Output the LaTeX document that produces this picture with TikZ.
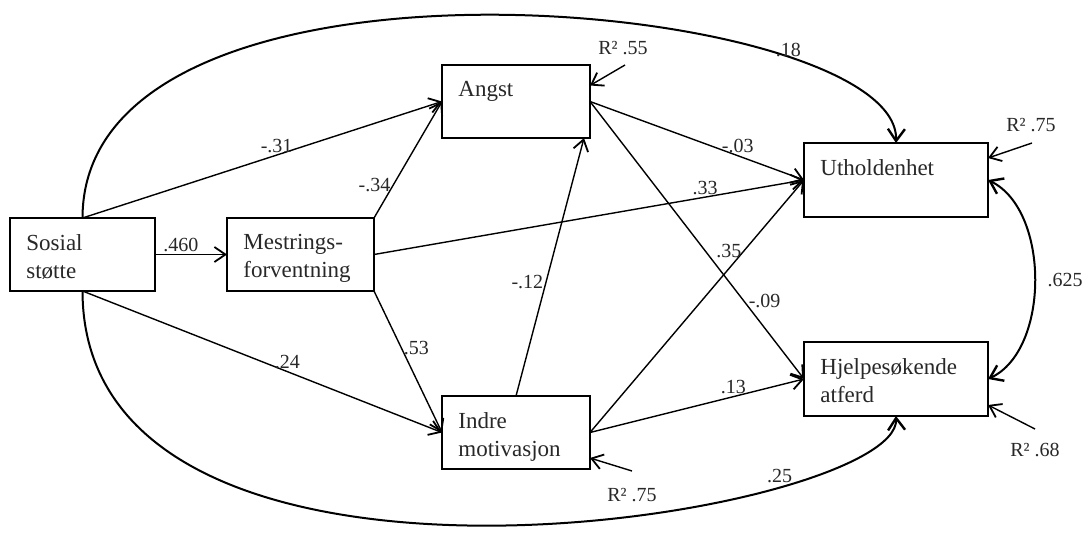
\documentclass[tikz,border=0pt]{standalone}
\usepackage{fontspec}
\setmainfont{Liberation Serif}
\usepackage{tikz}
\usetikzlibrary{arrows.meta, positioning, calc}
\definecolor{txtgrey}{RGB}{40,40,40}
\tikzset{
  barb/.tip={Straight Barb[length=5.5pt, width=7.5pt, line width=0.9pt]},
  bigbarb/.tip={Straight Barb[length=6pt, width=8.5pt, line width=1.2pt]},
  box/.style={rectangle, draw, line width=0.75pt, minimum height=36.5pt,
    inner sep=0pt, outer sep=0pt},
  boxtext/.style={anchor=north west, align=left, inner sep=0pt, text=txtgrey,
    xshift=8pt, yshift=-8pt, font=\fontsize{11.5}{14}\selectfont},
  arrow/.style={-barb, line width=0.7pt},
  corr/.style={-bigbarb, line width=1pt},
  coef/.style={font=\fontsize{10}{12}\selectfont, inner sep=1pt, text=txtgrey}
}

\begin{document}
\begin{tikzpicture}[x=0.5pt, y=-0.5pt]
  \path[use as bounding box, fill=white] (0,0) rectangle (1090,534);

  % Variables
  \node[box, minimum width=72.5pt, label={[boxtext]north west:{Sosial\\støtte}}] (sosial) at (82.5,254.5) {};
  \node[box, minimum width=73.5pt, label={[boxtext]north west:{Mestrings-\\forventning}}] (mestring) at (300.5,254.5) {};
  \node[box, minimum width=74pt, label={[boxtext]north west:{Angst}}] (angst) at (516,101.5) {};
  \node[box, minimum width=74pt, label={[boxtext]north west:{Indre\\motivasjon}}] (indre) at (516,432.5) {};
  \node[box, minimum width=92pt, minimum height=37pt, label={[boxtext]north west:{Utholdenhet}}] (uthold) at (896,180) {};
  \node[box, minimum width=92pt, minimum height=37pt, label={[boxtext]north west:{Hjelpesøkende\\atferd}}] (hjelp) at (896,379) {};

  % Direct paths
  \draw[arrow] (sosial.east) -- node[coef, pos=0.36, above] {.460} (mestring.west);
  \draw[arrow] (sosial.north) -- node[coef, pos=0.54, above] {-.31} (angst.west);
  \draw[arrow] (mestring.north east) -- node[coef, pos=0.28, left] {-.34} (angst.west);
  \draw[arrow] (sosial.south) -- node[coef, pos=0.57, above] {.24} (indre.west);
  \draw[arrow] (mestring.south east) -- node[coef, pos=0.4, right] {.53} (indre.west);
  \draw[arrow] (indre.north) -- node[coef, pos=0.44, left] {-.12} ($(angst.south east)+(-6,0)$);
  \draw[arrow] (angst.east) -- node[coef, pos=0.69, above] {-.03} (uthold.west);
  \draw[arrow] (mestring.east) -- node[coef, pos=0.77, above] {.33} (uthold.west);
  \draw[arrow] (angst.east) -- node[coef, pos=0.72, right=1pt] {-.09} (hjelp.west);
  \draw[arrow] (indre.east) -- node[coef, pos=0.72, left] {.35} (uthold.west);
  \draw[arrow] (indre.east) -- node[coef, pos=0.67, above] {.13} (hjelp.west);

  % Curved paths and correlation
  \draw[corr] (sosial.north) .. controls (83,-80) and (900,0) .. node[coef, pos=0.77, above, inner sep=0pt] {.18} (uthold.north);
  \draw[corr] (sosial.south) .. controls (83,650) and (900,515) .. node[coef, pos=0.76, above] {.25} (hjelp.south);
  \draw[corr, bigbarb-bigbarb] (uthold.east) .. controls (1050,210) and (1050,350) .. node[coef, pos=0.5, right=5pt] {.625} (hjelp.east);

  % Explained variance
  \coordinate (ra) at (625,65);
  \coordinate (ru) at (1032,143);
  \coordinate (rh) at (1035,429);
  \coordinate (ri) at (632,471);
  \node[coef] (r2angst) at (623,48) {R² .55};
  \node[coef] (r2uthold) at (1031,125) {R² .75};
  \node[coef] (r2hjelp) at (1035,450) {R² .68};
  \node[coef] (r2indre) at (632,495) {R² .75};
  \draw[arrow] (ra) -- ($(angst.east)+(0,-16)$);
  \draw[arrow] (ru) -- ($(uthold.east)+(0,-22)$);
  \draw[arrow] (rh) -- ($(hjelp.east)+(0,26)$);
  \draw[arrow] (ri) -- ($(indre.east)+(0,25.5)$);
\end{tikzpicture}
\end{document}
